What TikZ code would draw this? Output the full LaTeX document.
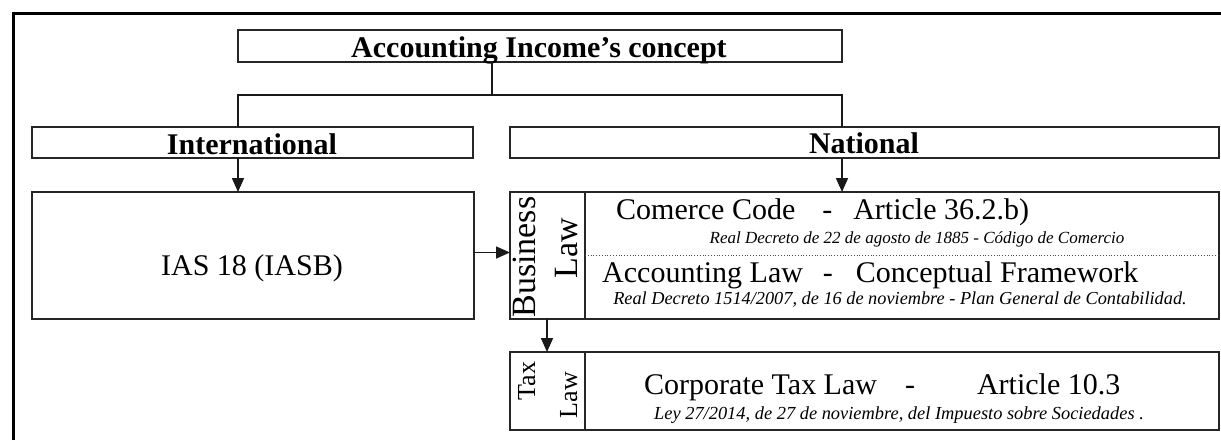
\documentclass[tikz,border=0pt]{standalone}
\usepackage{fontspec}
\setmainfont{Liberation Serif}
\usetikzlibrary{arrows.meta}
\begin{document}
\begin{tikzpicture}[x=1pt,y=-1pt,
  box/.style={draw=black!85, line width=1.4pt, inner sep=0pt, outer sep=0pt},
  ttl/.style={font=\fontsize{30}{36}\selectfont\bfseries, inner sep=0pt, anchor=base},
  maintxt/.style={font=\fontsize{30}{36}\selectfont, inner sep=0pt, anchor=base west},
  subtxt/.style={font=\fontsize{17}{20}\selectfont\itshape, inner sep=0pt, anchor=base},
  rotbig/.style={font=\fontsize{34}{40}\selectfont, inner sep=0pt, rotate=90, anchor=base},
  rotsmall/.style={font=\fontsize{26}{30}\selectfont, inner sep=0pt, rotate=90, anchor=base},
  conn/.style={draw=black!90, line width=1.6pt},
  arr/.style={conn, -{Triangle[length=14pt,width=12pt]}},
  ]
\useasboundingbox (0,0) rectangle (1221,440);
% outer frame (only left and top edges visible)
\draw[line width=3pt, black] (13,440) -- (13,13) -- (1221,13);

% boxes
\node[box, minimum width=604pt, minimum height=32pt] (top) at (540,46) {};
\node[box, minimum width=441pt, minimum height=31pt] (intl) at (252.5,142.5) {};
\node[box, minimum width=709pt, minimum height=31pt] (natl) at (864.5,142.5) {};
\node[box, minimum width=442pt, minimum height=127pt] (ias) at (253,255.5) {};
\node[box, minimum width=709pt, minimum height=127pt] (biz) at (864.5,255.5) {};
\node[box, minimum width=709pt, minimum height=78pt] (tax) at (864.5,391) {};

% inner dividers
\draw[box] (585,192) -- (585,319);
\draw[box] (585,352) -- (585,430);
\draw[dotted, line width=0.8pt, black!70] (585,255) -- (1219,255);

% titles
\node[ttl] (ttop) at (539,57) {Accounting Income's concept};
\node[ttl] (tintl) at (252,154) {International};
\node[ttl] (tnatl) at (864,153) {National};

% IAS
\node[font=\fontsize{30}{36}\selectfont, inner sep=0pt, anchor=base] (tias) at (252,275) {IAS 18 (IASB)};

% Business law content
\node[rotbig] (tbus) at (535,257) {Business};
\node[rotbig] (tbuslaw) at (577,248) {Law};
\node[maintxt] (tcom) at (616,219) {Comerce Code\hspace{27pt}-\hspace{21pt}Article 36.2.b)};
\node[subtxt] (scom) at (917,243) {Real Decreto de 22 de agosto de 1885 - Código de Comercio};
\node[maintxt] (tacc) at (602,282) {Accounting Law\hspace{20pt}-\hspace{23pt}Conceptual Framework};
\node[subtxt, font=\fontsize{18.3}{22}\selectfont\itshape] (sacc) at (900,304) {Real Decreto 1514/2007, de 16 de noviembre - Plan General de Contabilidad.};

% Tax law content
\node[rotsmall] (ttax) at (535,381) {Tax};
\node[rotsmall] (ttaxlaw) at (577,395) {Law};
\node[maintxt] (tcorp) at (644,394) {Corporate Tax Law\hspace{28pt}-\hspace{62pt}Article 10.3};
\node[subtxt, font=\fontsize{18.4}{22}\selectfont\itshape] (scorp) at (899,419) {Ley 27/2014, de 27 de noviembre, del Impuesto sobre Sociedades .};

% connectors
\coordinate (j) at (492,95);
\coordinate (jl) at (238,95);
\coordinate (jr) at (842,95);
\draw[conn] (top.south -| j) -- (j);
\draw[conn] (intl.north -| jl) -- (jl) -- (jr) -- (natl.north -| jr);
\draw[arr] (intl.south -| jl) -- (ias.north -| jl);
\draw[arr] (natl.south -| jr) -- (biz.north -| jr);
\draw[arr] ([yshift=3pt]ias.east) -- ([yshift=3pt]ias.east -| biz.west);
\coordinate (bt) at (547,0);
\draw[arr] (biz.south -| bt) -- (tax.north -| bt);
\end{tikzpicture}
\end{document}
